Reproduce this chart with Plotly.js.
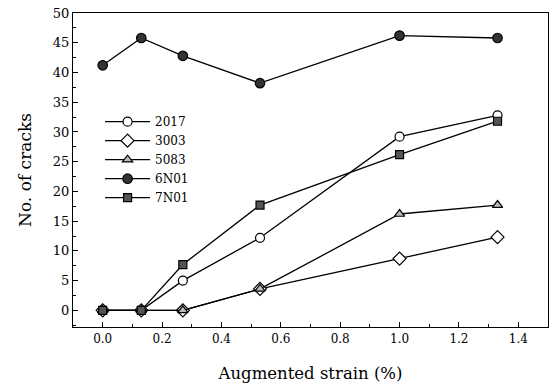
<!DOCTYPE html>
<html><head><meta charset="utf-8">
<script src="https://cdn.plot.ly/plotly-3.0.1.min.js"></script>
<style>html,body{margin:0;padding:0;background:#fff;}#chart{width:555px;height:388px;}</style>
</head><body><div id="chart"></div>
<script>
const strain = [0.0, 0.13, 0.27, 0.53, 1.0, 1.33];
const s2017 = [0, 0, 5.0, 12.2, 29.2, 32.8];
const s3003 = [0, 0, 0, 3.6, 8.7, 12.3];
const s5083 = [0, 0, 0, 3.6, 16.2, 17.7];
const s6N01 = [41.2, 45.8, 42.8, 38.2, 46.2, 45.8];
const s7N01 = [0, 0, 7.7, 17.7, 26.2, 31.8];
const names = ['2017', '3003', '5083', '6N01', '7N01'];

const styles = [
  {symbol: 'circle', color: '#fff', size: 9},
  {symbol: 'diamond', color: '#fff', size: 10},
  {symbol: 'triangle-up', color: '#bbb', size: 9},
  {symbol: 'circle', color: '#333', size: 9.5},
  {symbol: 'square', color: '#555', size: 8}
];
const series = [s2017, s3003, s5083, s6N01, s7N01];
const traces = series.map((ys, i) => ({
  x: strain, y: ys, name: names[i], type: 'scatter', mode: 'lines+markers',
  line: {color: '#000', width: 1.3},
  marker: {symbol: styles[i].symbol, color: styles[i].color, size: styles[i].size,
           line: {color: '#000', width: 1.2}}
}));

const font = {family: '"DejaVu Serif", "Liberation Serif", serif', color: '#000'};
const layout = {
  width: 555, height: 388,
  margin: {l: 73, r: 7, t: 13, b: 61},
  paper_bgcolor: '#fff', plot_bgcolor: '#fff',
  font: Object.assign({size: 12}, font),
  showlegend: true,
  legend: {x: 0.057, y: 0.70, xanchor: 'left', yanchor: 'top', bgcolor: 'rgba(0,0,0,0)',
           font: Object.assign({size: 12}, font), tracegroupgap: 0, itemwidth: 45},
  xaxis: {
    range: [-0.1, 1.5], tickvals: [0, 0.2, 0.4, 0.6, 0.8, 1.0, 1.2, 1.4],
    ticktext: ['0.0', '0.2', '0.4', '0.6', '0.8', '1.0', '1.2', '1.4'],
    ticks: 'inside', ticklen: 5, tickwidth: 1, tickcolor: '#000',
    minor: {dtick: 0.1, tick0: 0, ticks: 'inside', ticklen: 3, tickcolor: '#000'},
    showline: true, linecolor: '#000', linewidth: 1.2, mirror: true,
    showgrid: false, zeroline: false,
    tickfont: Object.assign({size: 12}, font),
    title: {text: 'Augmented strain (%)', font: Object.assign({size: 16.5}, font), standoff: 22}
  },
  yaxis: {
    range: [-2.8, 50], tickvals: [0, 5, 10, 15, 20, 25, 30, 35, 40, 45, 50],
    ticks: 'inside', ticklen: 5, tickwidth: 1, tickcolor: '#000',
    minor: {dtick: 2.5, tick0: 0, ticks: 'inside', ticklen: 3, tickcolor: '#000'},
    showline: true, linecolor: '#000', linewidth: 1.2, mirror: true,
    showgrid: false, zeroline: false,
    tickfont: Object.assign({size: 13}, font),
    title: {text: 'No. of cracks', font: Object.assign({size: 17}, font), standoff: 16}
  }
};
Plotly.newPlot('chart', traces, layout, {displayModeBar: false, staticPlot: true});
</script></body></html>
